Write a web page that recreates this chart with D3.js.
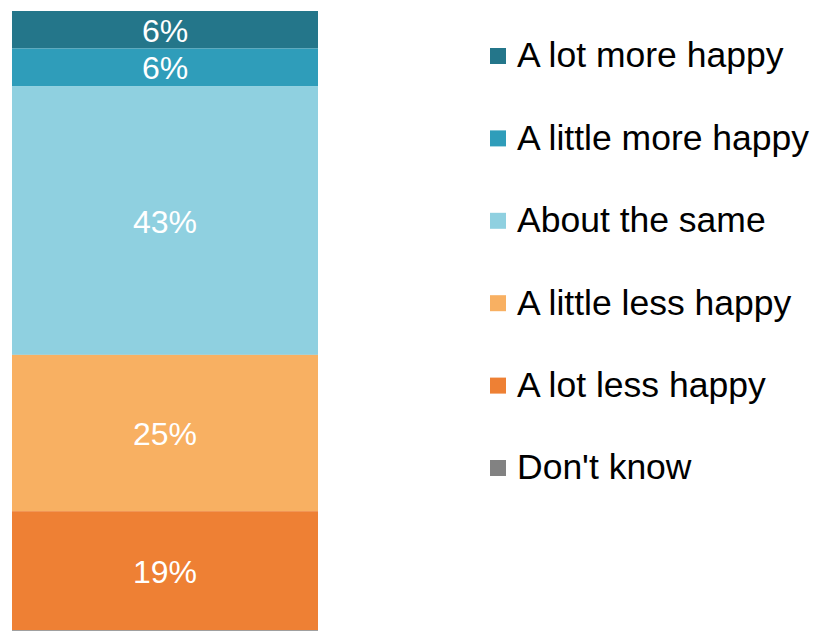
<!DOCTYPE html>
<html>
<head>
<meta charset="utf-8">
<script src="https://cdn.jsdelivr.net/npm/d3@7"></script>
<style>
  html, body { margin: 0; padding: 0; background: #fff; }
  svg { display: block; font-family: "Liberation Sans", Arial, sans-serif; }
</style>
</head>
<body>
<svg id="chart" width="814" height="631"></svg>
<script>
// Response categories, top of the stack first
const categories = ["A lot more happy", "A little more happy", "About the same", "A little less happy", "A lot less happy", "Don't know"];
// Share of respondents (%)
const values = [6, 6, 43, 25, 19, 0];
const colors = ["#24768a", "#2f9dba", "#8fd0e0", "#f8b062", "#ee8034", "#828282"];

const svg = d3.select("#chart");
const bar = { left: 12, right: 318, top: 11, bottom: 630 };

const total = d3.sum(values);
const y = d3.scaleLinear().domain([0, total]).range([bar.top, bar.bottom]);

// cumulative start of each segment from the top
let acc = 0;
const segments = categories.map((c, i) => {
  const s = { cat: c, value: values[i], color: colors[i], y0: acc, y1: acc + values[i] };
  acc += values[i];
  return s;
});

const g = svg.append("g");
g.selectAll("rect.seg")
  .data(segments.filter(d => d.value > 0))
  .join("rect")
  .attr("class", "seg")
  .attr("x", bar.left)
  .attr("width", bar.right - bar.left)
  .attr("y", d => y(d.y0))
  .attr("height", d => y(d.y1) - y(d.y0))
  .attr("fill", d => d.color);

g.selectAll("text.val")
  .data(segments.filter(d => d.value > 0))
  .join("text")
  .attr("class", "val")
  .attr("x", (bar.left + bar.right) / 2)
  .attr("y", d => (y(d.y0) + y(d.y1)) / 2)
  .attr("dy", "0.38em")
  .attr("text-anchor", "middle")
  .attr("fill", "#ffffff")
  .attr("font-size", 32)
  .text(d => d.value + "%");

// baseline
svg.append("line")
  .attr("x1", bar.left).attr("x2", bar.right)
  .attr("y1", bar.bottom + 0.5).attr("y2", bar.bottom + 0.5)
  .attr("stroke", "#a0a0a0").attr("stroke-width", 1);

// legend
const ly = d3.scalePoint().domain(categories).range([55, 467]);
const legend = svg.append("g").selectAll("g")
  .data(segments)
  .join("g")
  .attr("transform", d => `translate(490,${ly(d.cat)})`);
legend.append("rect")
  .attr("x", 0).attr("y", -7).attr("width", 16).attr("height", 16)
  .attr("fill", d => d.color);
legend.append("text")
  .attr("x", 27).attr("y", 0).attr("dy", "0.35em")
  .attr("font-size", 35.5)
  .attr("fill", "#000")
  .text(d => d.cat);
</script>
</body>
</html>
